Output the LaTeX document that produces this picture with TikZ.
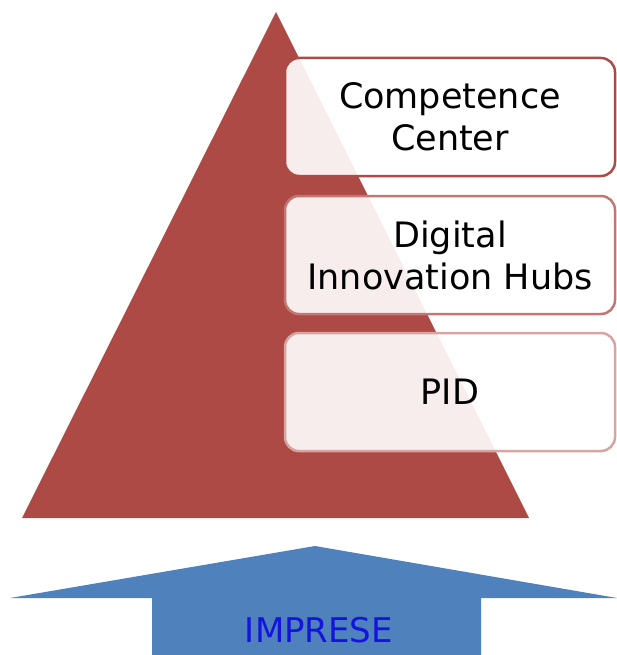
\documentclass[tikz,border=0pt]{standalone}
\usepackage{fontspec}
\setmainfont{DejaVu Sans}
\definecolor{pyrred}{HTML}{AE4A45}
\definecolor{arrblue}{HTML}{4F81BD}
\definecolor{txtblue}{HTML}{1414DC}
\begin{document}
\begin{tikzpicture}[x=1pt,y=-1pt,line join=round,
	level/.style={draw=#1,line width=2.5pt,fill=white,fill opacity=0.9,text opacity=1,
		rounded corners=14pt,minimum width=330pt,minimum height=118pt,align=center,
		font=\fontsize{35}{42}\selectfont,inner sep=0pt}]
		\useasboundingbox (0,0) rectangle (617,655);
		% pyramid
		\coordinate (top) at (276,12);
		\coordinate (bl) at (22,518);
		\coordinate (br) at (529,518);
		\fill[pyrred] (top) -- (br) -- (bl) -- cycle;
		% levels
		\node[level=pyrred] (cc) at (450,117) {Competence\\Center};
		\node[level=pyrred!75] (dih) at (450,255) {Digital\\Innovation Hubs};
		\node[level=pyrred!50] (pid) at (450,392) {PID};
		% companies
		\fill[arrblue] (10,598) -- (315,546) -- (617,598) -- (481,598) -- (481,660)
			-- (152,660) -- (152,598) -- cycle;
		\node[text=txtblue,font=\fontsize{34}{40}\selectfont] (imp) at (319,630) {IMPRESE};
	\end{tikzpicture}
\end{document}
